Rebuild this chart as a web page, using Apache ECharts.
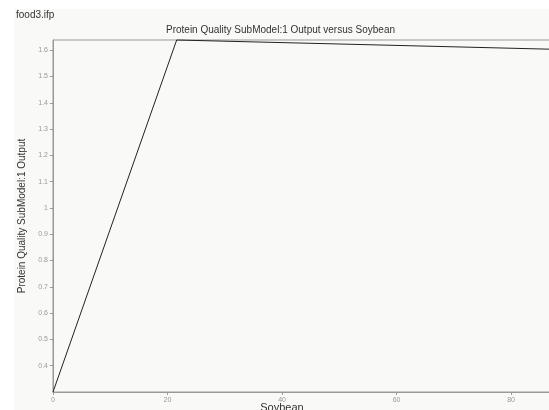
<!DOCTYPE html>
<html><head><meta charset="utf-8">
<script src="https://cdn.jsdelivr.net/npm/echarts@6/dist/echarts.min.js"></script>
<style>html,body{margin:0;padding:0;background:#fff}#c{width:549px;height:410px}</style>
</head><body><div id="c"></div>
<script>
const soybean = [0, 21.6, 86.8];
const output = [0.3, 1.639, 1.604];
const title = 'Protein Quality SubModel:1 Output versus Soybean';
const fileName = 'food3.ifp';
const xName = 'Soybean';
const yName = 'Protein Quality SubModel:1 Output';

const chart = echarts.init(document.getElementById('c'), null, {renderer: 'canvas'});
chart.setOption({
  animation: false,
  backgroundColor: '#ffffff',
  graphic: [
    {type: 'rect', z: -10, shape: {x: 14, y: 9, width: 540, height: 410}, style: {fill: '#f9f9f7'}},
    {type: 'text', left: 16, top: 10, style: {text: fileName, fontFamily: 'Liberation Sans, Arial', fontSize: 10, fill: '#333'}},
    {type: 'text', left: 166, top: 25, style: {text: title, fontFamily: 'Liberation Sans, Arial', fontSize: 10, fill: '#333'}},
    {type: 'text', x: 282, y: 402, style: {text: xName, align: 'center', verticalAlign: 'top', fontFamily: 'Liberation Sans, Arial', fontSize: 11, fill: '#333'}}
  ],
  grid: {left: 53, right: -1, top: 40, bottom: 18, outerBoundsMode: 'none', containLabel: false,
    show: true, borderColor: '#999', borderWidth: 1, backgroundColor: 'transparent'},
  xAxis: {
    type: 'value', min: 0, max: 86.8, interval: 20,
    axisLine: {lineStyle: {color: '#999'}},
    axisTick: {show: true, length: 3, lineStyle: {color: '#999'}},
    axisLabel: {showMaxLabel: false, fontSize: 7, color: '#999', margin: 5, fontFamily: 'Liberation Sans, Arial'},
    splitLine: {show: false}
  },
  yAxis: {
    type: 'value', min: 0.3, max: 1.639, interval: 0.1,
    name: yName, nameLocation: 'middle', nameGap: 25,
    nameTextStyle: {fontFamily: 'Liberation Sans, Arial', fontSize: 10, color: '#333'},
    axisLine: {show: true, lineStyle: {color: '#999'}},
    axisTick: {show: true, length: 3, lineStyle: {color: '#999'}},
    axisLabel: {showMinLabel: false, showMaxLabel: false, fontSize: 7, color: '#999', margin: 5, fontFamily: 'Liberation Sans, Arial',
      formatter: v => String(Math.round(v * 10) / 10)},
    splitLine: {show: false}
  },
  series: [{
    type: 'line', data: soybean.map((x, i) => [x, output[i]]),
    showSymbol: false, lineStyle: {color: '#222', width: 1}, clip: false
  }]
});
</script></body></html>
